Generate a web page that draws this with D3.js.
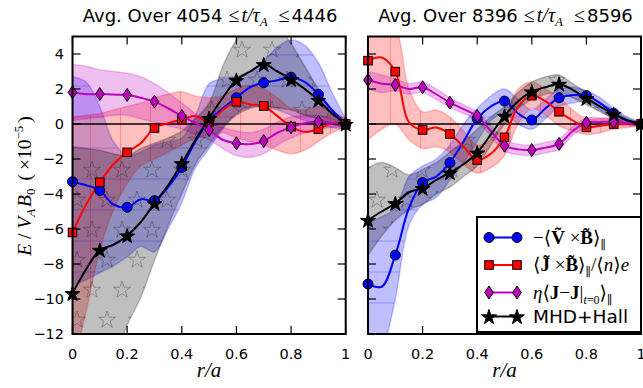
<!DOCTYPE html>
<html><head><meta charset="utf-8">
<script src="https://cdn.jsdelivr.net/npm/d3@7"></script>
<style>body{margin:0;background:#fff}svg{display:block}</style>
</head><body>
<svg id="c" width="643" height="388"></svg>
<script>
// ---------- DATA ----------
const radius = [0,0.05,0.1,0.15,0.2,0.25,0.3,0.35,0.4,0.45,0.5,0.55,0.6,0.65,0.7,0.75,0.8,0.85,0.9,0.95,1.0];
const markerIdx = [0,2,4,6,8,10,12,14,16,18,20];
const xTicks = [0,0.2,0.4,0.6,0.8,1];
const xTickLabels = ["0","0.2","0.4","0.6","0.8","1"];
const yTicks = [-12,-10,-8,-6,-4,-2,0,2,4];
const yTickLabels = ["\u221212","\u221210","\u22128","\u22126","\u22124","\u22122","0","2","4"];
const titles = [["4054","4446"],["8396","8596"]];
const seriesNames = ["vxb","jxb","eta","mhd"];

// Panel 1 (4054-4446)
const vxbLine1 = [-3.3,-3.5,-3.8,-4.6,-4.76,-4.3,-4.38,-3.6,-2.48,-1.0,0.2,0.9,1.5,2.1,2.36,2.5,2.67,2.4,1.7,0.8,0.0];
const jxbLine1 = [-6.2,-4.6,-3.33,-2.3,-1.62,-1.1,-0.23,0.05,0.25,0.45,0.13,0.8,1.27,1.12,1.03,0.45,-0.15,-0.45,-0.3,0.05,0.0];
const etaLine1 = [1.81,1.7,1.71,1.68,1.66,1.5,1.28,0.9,0.46,0.05,-0.34,-0.9,-1.1,-1.15,-0.97,-0.5,-0.19,0.05,0.13,0.05,0.0];
const mhdLine1 = [-9.67,-8.3,-7.2,-6.9,-6.38,-5.6,-4.53,-3.5,-2.25,-0.9,0.33,1.5,2.51,3.0,3.41,3.0,2.55,2.0,1.37,0.6,0.0];
const vxbHi1 = [2.7,2.4,1.0,-1.0,-1.8,-1.6,-1.2,-1.0,-0.8,0.5,2.3,2.6,2.7,3.0,3.6,4.4,4.8,4.5,3.5,1.8,0.3];
const vxbLo1 = [-9.2,-8.9,-8.5,-8.1,-7.6,-7.0,-7.3,-6.0,-4.5,-2.5,-1.4,-0.3,0.6,1.0,1.0,0.8,0.5,0.2,0.0,-0.2,-0.3];
const jxbHi1 = [0.4,0.5,0.6,0.8,1.0,1.2,1.5,1.7,1.85,1.6,1.5,1.6,2.0,2.2,2.0,1.5,0.9,0.8,1.0,0.7,0.3];
const jxbLo1 = [-14,-10.7,-7.2,-4.9,-3.4,-2.4,-2.0,-1.6,-1.2,-0.8,-0.6,-0.5,-0.8,-1.0,-1.2,-1.5,-1.7,-1.5,-1.0,-0.5,-0.2];
const etaHi1 = [3.4,3.3,3.1,3.0,2.9,2.7,2.3,1.8,1.2,0.6,0.1,-0.2,-0.4,-0.5,-0.3,0.1,0.4,0.5,0.5,0.3,0.1];
const etaLo1 = [0.2,0.3,0.4,0.5,0.5,0.3,0.1,-0.1,-0.3,-0.6,-0.9,-1.4,-1.8,-1.9,-1.7,-1.2,-0.8,-0.5,-0.3,-0.2,-0.1];
const mhdHi1 = [-1.3,-1.4,-1.5,-1.7,-1.8,-1.4,-1.1,-0.8,-0.4,0.3,1.2,3.3,4.8,5.6,6.0,5.6,4.6,3.3,2.0,0.8,0.2];
const mhdLo1 = [-14,-14,-14,-13.5,-11.5,-9.9,-7.8,-5.8,-4.0,-2.3,-1.2,-0.2,0.5,0.9,1.0,0.9,0.8,0.5,0.3,0.0,-0.2];

// Panel 2 (8396-8596)
const vxbLine2 = [-9.14,-9.3,-7.49,-4.8,-3.35,-3.0,-2.21,-1.0,0.3,1.0,1.31,0.6,0.23,0.9,1.5,1.65,1.62,1.2,0.61,0.2,0.0];
const jxbLine2 = [3.62,3.8,2.99,0.1,-0.34,-0.2,-0.57,-1.3,-2.06,-1.7,-0.76,1.0,1.62,1.3,0.7,0.2,-0.19,-0.1,0.0,0.0,0.0];
const etaLine2 = [2.51,2.3,2.23,2.0,2.1,1.7,1.22,0.85,0.46,-0.4,-1.24,-1.45,-1.49,-1.35,-1.14,-0.4,0.08,0.12,0.13,0.05,0.0];
const mhdLine2 = [-5.49,-5.0,-4.53,-3.9,-3.67,-3.2,-2.78,-2.3,-1.64,-0.6,0.46,1.3,1.85,2.1,2.29,1.95,1.47,1.0,0.57,0.2,0.0];
const vxbHi2 = [-5.6,-5.3,-4.8,-3.0,-2.4,-2.0,-1.2,0.0,0.9,1.6,2.0,1.4,0.8,1.4,2.0,2.1,1.9,1.5,0.9,0.4,0.1];
const vxbLo2 = [-14,-13,-10,-5.8,-4.6,-4.2,-3.2,-2.2,-1.0,0.2,0.6,0.0,-0.3,0.3,1.0,1.2,1.3,0.8,0.3,0.0,-0.1];
const jxbHi2 = [6,6,5.5,2.0,0.7,0.8,0.4,-0.4,-1.2,-0.9,0.3,2.0,2.4,2.0,1.5,0.8,0.3,0.3,0.3,0.2,0.1];
const jxbLo2 = [-0.9,-0.3,0.0,-0.9,-1.4,-1.3,-1.6,-2.3,-2.8,-2.5,-1.8,0.0,0.9,0.5,-0.1,-0.4,-0.6,-0.5,-0.3,-0.2,-0.1];
const etaHi2 = [3.0,2.8,2.6,2.3,2.4,2.0,1.5,1.1,0.7,-0.1,-0.9,-1.15,-1.2,-1.05,-0.85,-0.15,0.35,0.35,0.35,0.25,0.1];
const etaLo2 = [2.0,1.8,1.9,1.7,1.8,1.4,0.95,0.6,0.2,-0.7,-1.55,-1.75,-1.8,-1.65,-1.45,-0.65,-0.2,-0.1,-0.1,-0.1,-0.1];
const mhdHi2 = [-2.5,-2.2,-2.5,-2.9,-2.6,-2.2,-1.6,-1.0,-0.3,0.4,1.0,1.8,2.4,2.7,2.8,2.3,1.8,1.2,0.8,0.3,0.1];
const mhdLo2 = [-7.5,-6.4,-5.5,-4.9,-4.6,-4.0,-3.6,-3.0,-2.4,-1.2,0.0,0.9,1.4,1.7,1.8,1.5,1.1,0.7,0.3,0.0,-0.1];

// ---------- STYLE ----------
const colors = {vxb:"#0000ff", jxb:"#ff0000", eta:"#bf00bf", mhd:"#000000"};
const hatch = {vxb:"hatchH", jxb:"hatchV", eta:null, mhd:"hatchStar"};
const panels = [
  {x0:72.5, x1:345.7, lines:{vxb:vxbLine1,jxb:jxbLine1,eta:etaLine1,mhd:mhdLine1},
   hi:{vxb:vxbHi1,jxb:jxbHi1,eta:etaHi1,mhd:mhdHi1}, lo:{vxb:vxbLo1,jxb:jxbLo1,eta:etaLo1,mhd:mhdLo1}, title:titles[0], ylabels:true},
  {x0:368, x1:641, lines:{vxb:vxbLine2,jxb:jxbLine2,eta:etaLine2,mhd:mhdLine2},
   hi:{vxb:vxbHi2,jxb:jxbHi2,eta:etaHi2,mhd:mhdHi2}, lo:{vxb:vxbLo2,jxb:jxbLo2,eta:etaLo2,mhd:mhdLo2}, title:titles[1], ylabels:false, legend:true}
];
const yTop = 36.5, yBot = 334;
const y = d3.scaleLinear().domain([-12,5]).range([yBot,yTop]);
const svg = d3.select("#c");
const defs = svg.append("defs");
const sans = "'DejaVu Sans', sans-serif";
const serif = "'Liberation Serif', 'DejaVu Serif', serif";

// hatch patterns
const pH = defs.append("pattern").attr("id","hatchH").attr("patternUnits","userSpaceOnUse").attr("width",30).attr("height",31);
pH.append("line").attr("x1",0).attr("x2",30).attr("y1",24).attr("y2",24).attr("stroke","#0000ff").attr("stroke-opacity",0.25).attr("stroke-width",1);
const pV = defs.append("pattern").attr("id","hatchV").attr("patternUnits","userSpaceOnUse").attr("width",30).attr("height",30);
pV.append("line").attr("x1",0.5).attr("x2",0.5).attr("y1",0).attr("y2",30).attr("stroke","#ff0000").attr("stroke-opacity",0.25).attr("stroke-width",1);
const pS = defs.append("pattern").attr("id","hatchStar").attr("patternUnits","userSpaceOnUse").attr("width",30).attr("height",60);
const starHatch = d3.symbol().type(d3.symbolStar).size(90);
[[17,20],[2,50],[32,50]].forEach(([sx,sy])=>{
  pS.append("path").attr("d",starHatch()).attr("transform",`translate(${sx},${sy})`)
    .attr("fill","none").attr("stroke","#000").attr("stroke-opacity",0.28).attr("stroke-width",1);
});

// marker shapes
function drawMarker(g, key, cx, cy){
  const c = colors[key];
  if(key==="vxb"){
    g.append("circle").attr("cx",cx).attr("cy",cy).attr("r",5).attr("fill",c).attr("stroke","#000").attr("stroke-width",1);
  } else if(key==="jxb"){
    g.append("rect").attr("x",cx-4.3).attr("y",cy-4.3).attr("width",8.6).attr("height",8.6).attr("fill",c).attr("stroke","#000").attr("stroke-width",1);
  } else if(key==="eta"){
    g.append("path").attr("d",`M${cx},${cy-6.5}L${cx+4.3},${cy}L${cx},${cy+6.5}L${cx-4.3},${cy}Z`).attr("fill",c).attr("stroke","#000").attr("stroke-width",1);
  } else {
    g.append("path").attr("d",d3.symbol().type(d3.symbolStar).size(70)()).attr("transform",`translate(${cx},${cy+0.8})`).attr("fill","#000").attr("stroke","#000").attr("stroke-width",1);
  }
}

panels.forEach((p,pi)=>{
  const x = d3.scaleLinear().domain([0,1]).range([p.x0,p.x1]);
  const g = svg.append("g");
  const clipId = "clip"+pi;
  defs.append("clipPath").attr("id",clipId).append("rect")
    .attr("x",p.x0).attr("y",yTop).attr("width",p.x1-p.x0).attr("height",yBot-yTop);
  const plot = g.append("g").attr("clip-path",`url(#${clipId})`);

  // bands
  seriesNames.forEach(k=>{
    const area = d3.area().x((d,i)=>x(radius[i])).y0((d,i)=>y(p.lo[k][i])).y1((d,i)=>y(p.hi[k][i])).curve(d3.curveCatmullRom);
    plot.append("path").attr("d",area(radius)).attr("fill",colors[k]).attr("fill-opacity",0.25)
      .attr("stroke",colors[k]).attr("stroke-opacity",0.22).attr("stroke-width",1.5);
    if(hatch[k]) plot.append("path").attr("d",area(radius)).attr("fill",`url(#${hatch[k]})`).attr("stroke","none");
  });
  // zero line
  plot.append("line").attr("x1",p.x0).attr("x2",p.x1).attr("y1",y(0)).attr("y2",y(0)).attr("stroke","#000").attr("stroke-width",1.6);
  // lines
  seriesNames.forEach(k=>{
    const line = d3.line().x((d,i)=>x(radius[i])).y(d=>y(d)).curve(d3.curveCatmullRom);
    plot.append("path").attr("d",line(p.lines[k])).attr("fill","none").attr("stroke",colors[k]).attr("stroke-width",2);
  });
  const mg = g.append("g");
  seriesNames.forEach(k=>{
    markerIdx.forEach(i=>drawMarker(mg,k,x(radius[i]),y(p.lines[k][i])));
  });

  // frame
  g.append("rect").attr("x",p.x0).attr("y",yTop).attr("width",p.x1-p.x0).attr("height",yBot-yTop)
    .attr("fill","none").attr("stroke","#000").attr("stroke-width",2);
  // ticks (inward, all sides)
  const tl = 8;
  xTicks.forEach(t=>{
    g.append("line").attr("x1",x(t)).attr("x2",x(t)).attr("y1",yBot).attr("y2",yBot-tl).attr("stroke","#000").attr("stroke-width",1.2);
    g.append("line").attr("x1",x(t)).attr("x2",x(t)).attr("y1",yTop).attr("y2",yTop+tl).attr("stroke","#000").attr("stroke-width",1.2);
  });
  yTicks.forEach(t=>{
    g.append("line").attr("x1",p.x0).attr("x2",p.x0+tl).attr("y1",y(t)).attr("y2",y(t)).attr("stroke","#000").attr("stroke-width",1.2);
    g.append("line").attr("x1",p.x1).attr("x2",p.x1-tl).attr("y1",y(t)).attr("y2",y(t)).attr("stroke","#000").attr("stroke-width",1.2);
  });
  // x tick labels
  xTicks.forEach((t,i)=>{
    g.append("text").attr("x",x(t)).attr("y",358.5).attr("text-anchor","middle")
      .attr("font-family",sans).attr("font-size",14.5).text(xTickLabels[i]);
  });
  if(p.ylabels){
    yTicks.forEach((t,i)=>{
      g.append("text").attr("x",p.x0-8.5).attr("y",y(t)+5.2).attr("text-anchor","end")
        .attr("font-family",sans).attr("font-size",14.5).text(yTickLabels[i]);
    });
  }
  // x label
  const xl = g.append("text").attr("x",(p.x0+p.x1)/2).attr("y",377).attr("text-anchor","middle")
    .attr("font-family",serif).attr("font-size",21).attr("font-style","italic");
  xl.text("r/a");
  // title
  const tt = g.append("text").attr("x",(p.x0+p.x1)/2+1).attr("y",22).attr("text-anchor","middle").attr("font-size",18);
  tt.append("tspan").attr("font-family",sans).text("Avg. Over "+p.title[0]);
  tt.append("tspan").attr("font-family",serif).attr("font-size",20).attr("dx",6).text("\u2264");
  tt.append("tspan").attr("font-family",serif).attr("font-style","italic").attr("font-size",20).attr("dx",2).text("t/\u03c4");
  tt.append("tspan").attr("font-family",serif).attr("font-style","italic").attr("font-size",13).attr("dy",4).text("A");
  tt.append("tspan").attr("font-family",serif).attr("font-size",20).attr("dy",-4).attr("dx",11).text("\u2264");
  tt.append("tspan").attr("font-family",sans).attr("dx",2).text(p.title[1]);

  if(p.legend){
    const lg = g.append("g");
    lg.append("rect").attr("x",477).attr("y",217).attr("width",p.x1-477).attr("height",115)
      .attr("fill","#fff").attr("stroke","#000").attr("stroke-width",2);
    const rowsY = [237.5,265,292.5,316.5];
    seriesNames.forEach((k,i)=>{
      lg.append("line").attr("x1",489).attr("x2",517).attr("y1",rowsY[i]).attr("y2",rowsY[i]).attr("stroke",colors[k]).attr("stroke-width",2);
      drawMarker(lg,k,489,rowsY[i]); drawMarker(lg,k,517,rowsY[i]);
    });
    const fs = 19;
    // row 1
    let t = lg.append("text").attr("x",533).attr("y",rowsY[0]+6).attr("font-family",serif).attr("font-size",fs);
    t.append("tspan").text("\u2212\u27e8");
    t.append("tspan").attr("font-weight","bold").text("V\u0303");
    t.append("tspan").text(" \u00d7");
    t.append("tspan").attr("font-weight","bold").text("B\u0303");
    t.append("tspan").text("\u27e9");
    t.append("tspan").attr("font-size",12).attr("dy",5).text("\u2225");
    // row 2
    t = lg.append("text").attr("x",533).attr("y",rowsY[1]+6).attr("font-family",serif).attr("font-size",fs);
    t.append("tspan").text("\u27e8");
    t.append("tspan").attr("font-weight","bold").text("J\u0303");
    t.append("tspan").text(" \u00d7");
    t.append("tspan").attr("font-weight","bold").text("B\u0303");
    t.append("tspan").text("\u27e9");
    t.append("tspan").attr("font-size",12).attr("dy",5).text("\u2225");
    t.append("tspan").attr("dy",-5).text("/\u27e8");
    t.append("tspan").attr("font-style","italic").text("n");
    t.append("tspan").text("\u27e9");
    t.append("tspan").attr("font-style","italic").text("e");
    // row 3
    t = lg.append("text").attr("x",533).attr("y",rowsY[2]+6).attr("font-family",serif).attr("font-size",fs);
    t.append("tspan").attr("font-style","italic").text("\u03b7");
    t.append("tspan").text("\u27e8");
    t.append("tspan").attr("font-weight","bold").text("J");
    t.append("tspan").text("\u2212");
    t.append("tspan").attr("font-weight","bold").text("J");
    t.append("tspan").text("|");
    t.append("tspan").attr("font-size",12).attr("dy",5).attr("font-style","italic").text("t");
    t.append("tspan").attr("font-size",12).text("=0");
    t.append("tspan").attr("dy",-5).text("\u27e9");
    t.append("tspan").attr("font-size",12).attr("dy",5).text("\u2225");
    // row 4
    lg.append("text").attr("x",533).attr("y",rowsY[3]+6.5).attr("font-family",sans).attr("font-size",18.5).text("MHD+Hall");
  }
});

// y label
const yl = svg.append("text").attr("transform","translate(31,186) rotate(-90)").attr("text-anchor","middle")
  .attr("font-family",serif).attr("font-size",19.5);
yl.append("tspan").attr("font-style","italic").text("E");
yl.append("tspan").text(" / ");
yl.append("tspan").attr("font-style","italic").text("V");
yl.append("tspan").attr("font-style","italic").attr("font-size",13).attr("dy",4).text("A");
yl.append("tspan").attr("font-style","italic").attr("dy",-4).attr("dx",2).text("B");
yl.append("tspan").attr("font-size",13).attr("dy",4).text("0");
yl.append("tspan").attr("dy",-4).attr("dx",8).text("(");
yl.append("tspan").attr("dx",4).text("\u00d710");
yl.append("tspan").attr("font-size",13).attr("dy",-8).text("\u22125");
yl.append("tspan").attr("dy",8).attr("dx",3).text(")");
</script>
</body></html>
